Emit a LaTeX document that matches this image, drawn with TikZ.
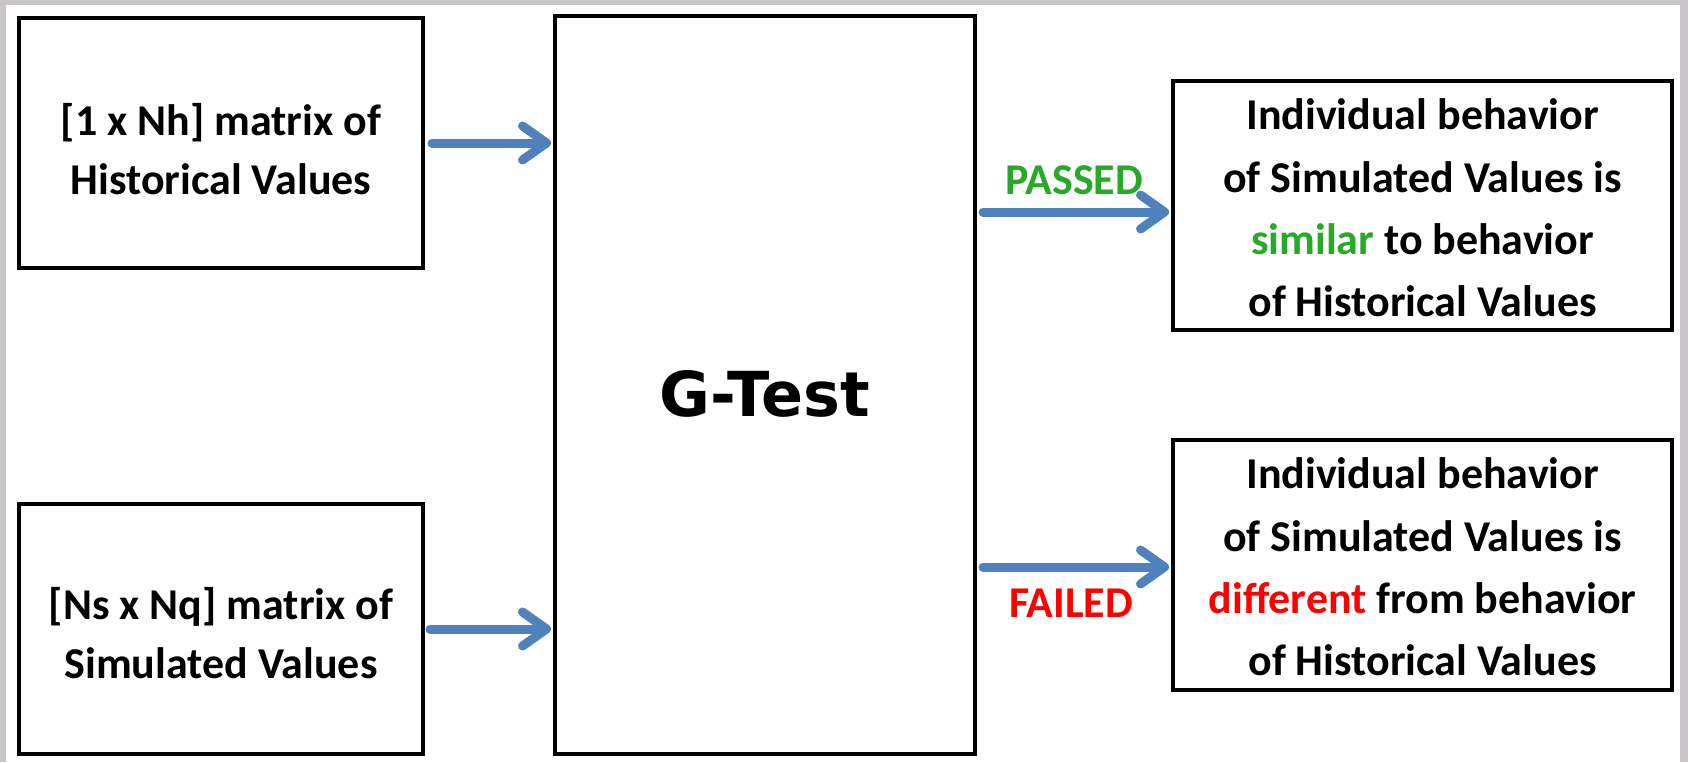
\documentclass[tikz,border=0pt]{standalone}
\usepackage{fontspec}
\setmainfont{Carlito}
\newfontfamily\gfont{DejaVu Sans}
\usetikzlibrary{arrows.meta,calc}
\definecolor{arrblue}{RGB}{79,129,189}
\definecolor{okgreen}{RGB}{40,170,40}
\definecolor{badred}{RGB}{255,0,0}
\definecolor{framegray}{RGB}{200,196,200}
\begin{document}
\begin{tikzpicture}[x=0.5pt,y=-0.5pt,
 box/.style={draw=black, line width=2pt, inner sep=0pt},
 ltxt/.style={align=center, inner sep=0pt, font=\fontsize{22}{29.5}\selectfont\bfseries},
 rtxt/.style={align=center, inner sep=0pt, font=\fontsize{22}{31.2}\selectfont\bfseries},
 arr/.style={draw=arrblue, line width=4.5pt, line cap=round, -{Straight Barb[length=12pt,width=17pt,line cap=round,line join=round]}},
 lab/.style={font=\fontsize{22}{26}\selectfont\bfseries, inner sep=0pt}]
\fill[white] (0,0) rectangle (1688,762);
\fill[framegray] (0,0) rectangle (1688,5);
\fill[framegray] (0,0) rectangle (6,762);
\fill[framegray] (1680,0) rectangle (1688,762);
\useasboundingbox (0,0) rectangle (1688,762);
\node[box, minimum width=202pt, minimum height=125pt] (h) at (221,143) {};
\node[ltxt] (ht) at (221,149) {[1 x Nh] matrix of\\Historical Values};
\node[box, minimum width=202pt, minimum height=125pt] (s) at (221,629) {};
\node[ltxt] (st) at (221,633) {[Ns x Nq] matrix of\\Simulated Values};
\node[box, minimum width=210pt, minimum height=369pt] (g) at (765,385) {};
\node[inner sep=0pt, font=\gfont\fontsize{31}{34}\selectfont\bfseries] (gt) at (765,394) {G-Test};
\node[box, minimum width=249.5pt, minimum height=124.5pt] (rt) at (1422.5,205.5) {};
\node[rtxt] (rtt) at (1422.5,208) {Individual behavior\\of Simulated Values is\\\textcolor{okgreen}{similar} to behavior\\of Historical Values};
\node[box, minimum width=249.5pt, minimum height=125pt] (rb) at (1422.5,565) {};
\node[rtxt] (rbt) at (1422.5,567) {Individual behavior\\of Simulated Values is\\\textcolor{badred}{different} from behavior\\of Historical Values};
\coordinate (pa) at (0,212);
\coordinate (pb) at (0,567);
\draw[arr] ([xshift=3.5pt]h.east) -- ([xshift=-1pt]h.east -| g.west);
\draw[arr] ([xshift=2.5pt]s.east) -- ([xshift=-1pt]s.east -| g.west);
\draw[arr] ([xshift=3pt]g.east |- pa) -- ([xshift=-1pt]rt.west |- pa);
\draw[arr] ([xshift=3pt]g.east |- pb) -- ([xshift=-1pt]rb.west |- pb);
\node[lab, text=okgreen] (pl) at (1074,180) {PASSED};
\node[lab, text=badred] (fl) at (1071,603) {FAILED};
\end{tikzpicture}
\end{document}
